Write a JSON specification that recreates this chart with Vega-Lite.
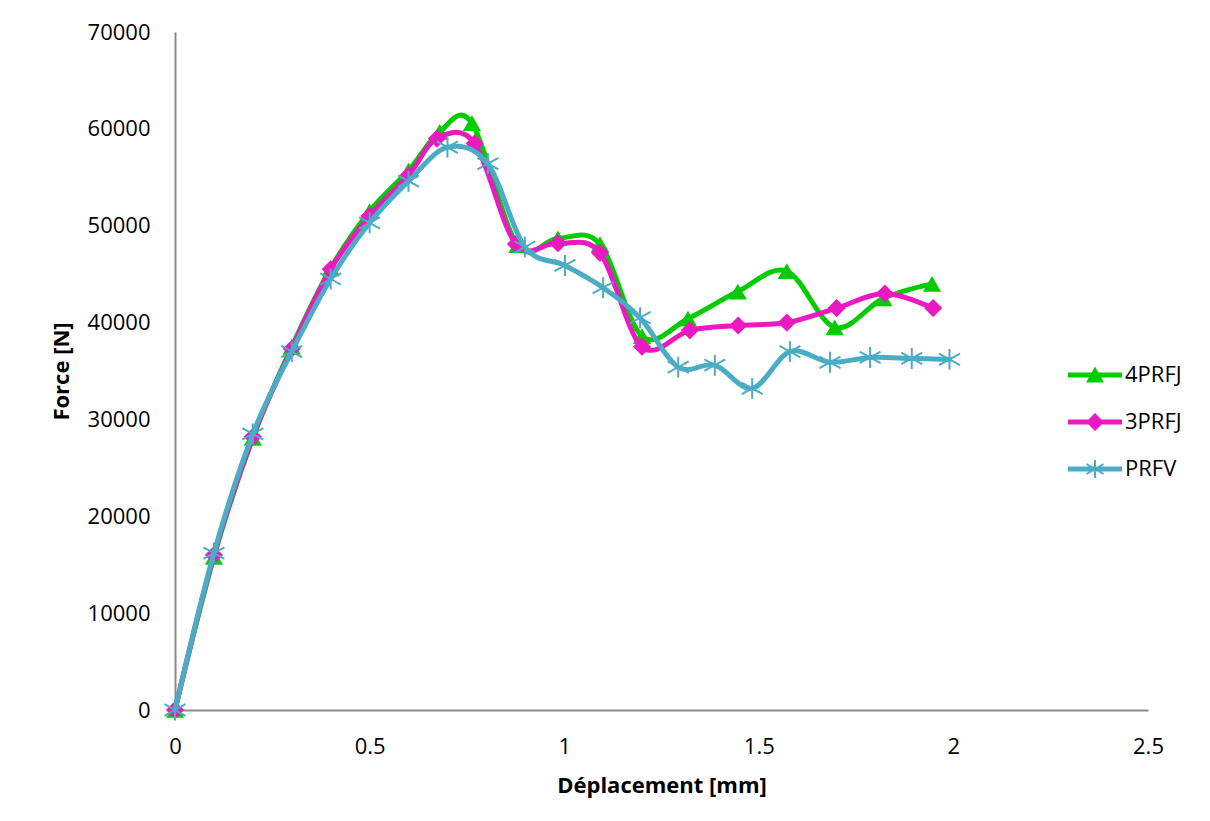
{
  "$schema": "https://vega.github.io/schema/vega-lite/v6.json",
  "width": 973,
  "height": 678,
  "autosize": {"type": "none"},
  "padding": {"left": 175, "top": 32, "right": 62, "bottom": 111},
  "background": "white",
  "config": {
    "view": {"stroke": null},
    "font": "Open Sans",
    "axis": {
      "ticks": false,
      "grid": false,
      "labelFlush": false,
      "labelOverlap": false,
      "domainColor": "#898989",
      "domainWidth": 2,
      "labelFont": "Open Sans",
      "labelFontSize": 22,
      "labelColor": "#000000",
      "titleFont": "Open Sans",
      "titleFontSize": 22,
      "titleFontWeight": "bold",
      "titleColor": "#000000"
    }
  },
  "data": {
    "values": [
      {"s": "4PRFJ", "x": 0, "y": 0},
      {"s": "4PRFJ", "x": 0.1, "y": 15800},
      {"s": "4PRFJ", "x": 0.2, "y": 28100},
      {"s": "4PRFJ", "x": 0.3, "y": 37500},
      {"s": "4PRFJ", "x": 0.4, "y": 45600},
      {"s": "4PRFJ", "x": 0.5, "y": 51500},
      {"s": "4PRFJ", "x": 0.6, "y": 55700},
      {"s": "4PRFJ", "x": 0.68, "y": 59700},
      {"s": "4PRFJ", "x": 0.763, "y": 60600},
      {"s": "4PRFJ", "x": 0.88, "y": 48000},
      {"s": "4PRFJ", "x": 0.984, "y": 48700},
      {"s": "4PRFJ", "x": 1.092, "y": 48100},
      {"s": "4PRFJ", "x": 1.2, "y": 38600},
      {"s": "4PRFJ", "x": 1.318, "y": 40400},
      {"s": "4PRFJ", "x": 1.446, "y": 43200},
      {"s": "4PRFJ", "x": 1.572, "y": 45300},
      {"s": "4PRFJ", "x": 1.695, "y": 39500},
      {"s": "4PRFJ", "x": 1.82, "y": 42500},
      {"s": "4PRFJ", "x": 1.945, "y": 44000},
      {"s": "3PRFJ", "x": 0, "y": 0},
      {"s": "3PRFJ", "x": 0.1, "y": 16000},
      {"s": "3PRFJ", "x": 0.2, "y": 28200},
      {"s": "3PRFJ", "x": 0.3, "y": 37300},
      {"s": "3PRFJ", "x": 0.4, "y": 45500},
      {"s": "3PRFJ", "x": 0.5, "y": 51000},
      {"s": "3PRFJ", "x": 0.6, "y": 55200},
      {"s": "3PRFJ", "x": 0.673, "y": 59000},
      {"s": "3PRFJ", "x": 0.77, "y": 58500},
      {"s": "3PRFJ", "x": 0.876, "y": 48100},
      {"s": "3PRFJ", "x": 0.984, "y": 48200},
      {"s": "3PRFJ", "x": 1.092, "y": 47200},
      {"s": "3PRFJ", "x": 1.2, "y": 37500},
      {"s": "3PRFJ", "x": 1.323, "y": 39200},
      {"s": "3PRFJ", "x": 1.447, "y": 39700},
      {"s": "3PRFJ", "x": 1.572, "y": 40000},
      {"s": "3PRFJ", "x": 1.7, "y": 41500},
      {"s": "3PRFJ", "x": 1.824, "y": 43000},
      {"s": "3PRFJ", "x": 1.948, "y": 41500},
      {"s": "PRFV", "x": 0, "y": 0},
      {"s": "PRFV", "x": 0.1, "y": 16200},
      {"s": "PRFV", "x": 0.2, "y": 28500},
      {"s": "PRFV", "x": 0.3, "y": 37000},
      {"s": "PRFV", "x": 0.4, "y": 44500},
      {"s": "PRFV", "x": 0.5, "y": 50300},
      {"s": "PRFV", "x": 0.6, "y": 54600},
      {"s": "PRFV", "x": 0.7, "y": 58100},
      {"s": "PRFV", "x": 0.804, "y": 56400},
      {"s": "PRFV", "x": 0.899, "y": 47800},
      {"s": "PRFV", "x": 1.002, "y": 45900},
      {"s": "PRFV", "x": 1.1, "y": 43600},
      {"s": "PRFV", "x": 1.195, "y": 40500},
      {"s": "PRFV", "x": 1.293, "y": 35400},
      {"s": "PRFV", "x": 1.387, "y": 35600},
      {"s": "PRFV", "x": 1.483, "y": 33200},
      {"s": "PRFV", "x": 1.58, "y": 37000},
      {"s": "PRFV", "x": 1.683, "y": 35900},
      {"s": "PRFV", "x": 1.786, "y": 36400},
      {"s": "PRFV", "x": 1.893, "y": 36300},
      {"s": "PRFV", "x": 1.99, "y": 36200}
    ]
  },
  "encoding": {
    "x": {
      "field": "x",
      "type": "quantitative",
      "scale": {"domain": [0, 2.5], "nice": false, "zero": false},
      "axis": {
        "title": "Déplacement [mm]",
        "values": [0, 0.5, 1, 1.5, 2, 2.5],
        "format": "~g",
        "labelPadding": 26,
        "titlePadding": 18
      }
    },
    "y": {
      "field": "y",
      "type": "quantitative",
      "scale": {"domain": [0, 70000], "nice": false},
      "axis": {
        "title": "Force [N]",
        "values": [0, 10000, 20000, 30000, 40000, 50000, 60000, 70000],
        "format": "d",
        "labelPadding": 25,
        "titlePadding": 14
      }
    }
  },
  "layer": [
    {
      "transform": [{"filter": "datum.s === '4PRFJ'"}],
      "mark": {"type": "line", "interpolate": "cardinal", "strokeWidth": 5, "color": "#00CC00", "strokeCap": "round", "strokeJoin": "round"}
    },
    {
      "transform": [{"filter": "datum.s === '4PRFJ'"}],
      "mark": {"type": "point", "shape": "triangle-up", "filled": true, "size": 330, "color": "#00CC00", "opacity": 1, "strokeWidth": 0}
    },
    {
      "transform": [{"filter": "datum.s === '3PRFJ'"}],
      "mark": {"type": "line", "interpolate": "cardinal", "strokeWidth": 5, "color": "#EA1AC0", "strokeCap": "round", "strokeJoin": "round"}
    },
    {
      "transform": [{"filter": "datum.s === '3PRFJ'"}],
      "mark": {"type": "point", "shape": "diamond", "filled": true, "size": 330, "color": "#EA1AC0", "opacity": 1, "strokeWidth": 0}
    },
    {
      "transform": [{"filter": "datum.s === 'PRFV'"}],
      "mark": {"type": "line", "interpolate": "cardinal", "strokeWidth": 5, "color": "#4BACC6", "strokeCap": "round", "strokeJoin": "round"}
    },
    {
      "transform": [{"filter": "datum.s === 'PRFV'"}],
      "mark": {"type": "point", "shape": "M-0.095,-1L0.095,-1L0.095,1L-0.095,1Z M-0.954,-0.633L1.046,0.467L0.954,0.633L-1.046,-0.467Z M-1.046,0.467L0.954,-0.633L1.046,-0.467L-0.954,0.633Z", "filled": true, "size": 440, "color": "#4BACC6", "opacity": 1, "strokeWidth": 0}
    },
    {
      "mark": {"type": "point", "filled": true, "size": 400, "opacity": 0, "strokeWidth": 0},
      "encoding": {
        "color": {
          "field": "s",
          "type": "nominal",
          "scale": {"domain": ["4PRFJ", "3PRFJ", "PRFV"], "range": ["#00CC00", "#EA1AC0", "#4BACC6"]},
          "legend": {
            "title": null,
            "orient": "none",
            "legendX": 909,
            "legendY": 332,
            "padding": 0,
            "labelFont": "Open Sans",
            "labelFontSize": 22,
            "labelColor": "#000000",
            "labelOffset": 19,
            "rowPadding": 25,
            "symbolOpacity": 1,
            "symbolStrokeWidth": 0,
            "symbolSize": 400
          }
        },
        "shape": {
          "field": "s",
          "type": "nominal",
          "scale": {
            "domain": ["4PRFJ", "3PRFJ", "PRFV"],
            "range": [
              "M-2.7,-0.25L2.7,-0.25L2.7,0.25L-2.7,0.25Z M0,-0.85L0.9,0.75L-0.9,0.75Z",
              "M-2.7,-0.25L2.7,-0.25L2.7,0.25L-2.7,0.25Z M0,-0.9L0.9,0L0,0.9L-0.9,0Z",
              "M-2.7,-0.25L2.7,-0.25L2.7,0.25L-2.7,0.25Z M-0.1,-0.9L0.1,-0.9L0.1,0.9L-0.1,0.9Z M-0.8,-0.586L0.9,0.414L0.8,0.586L-0.9,-0.414Z M-0.9,0.414L0.8,-0.586L0.9,-0.414L-0.8,0.586Z"
            ]
          },
          "legend": {
            "title": null,
            "orient": "none",
            "legendX": 909,
            "legendY": 332,
            "padding": 0,
            "labelFont": "Open Sans",
            "labelFontSize": 22,
            "labelColor": "#000000",
            "labelOffset": 19,
            "rowPadding": 25,
            "symbolOpacity": 1,
            "symbolStrokeWidth": 0,
            "symbolSize": 400
          }
        }
      }
    }
  ]
}
